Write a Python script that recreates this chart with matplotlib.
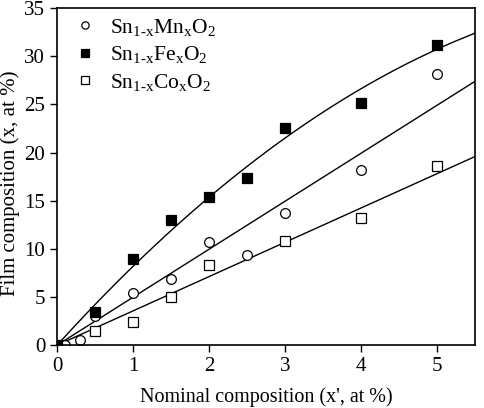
import numpy as np
import matplotlib
matplotlib.use("Agg")
import matplotlib.pyplot as plt

plt.rcParams['font.family'] = ['Liberation Serif', 'DejaVu Serif']
plt.rcParams['mathtext.fontset'] = 'custom'
plt.rcParams['mathtext.rm'] = 'Liberation Serif'
plt.rcParams['mathtext.it'] = 'Liberation Serif:italic'

# data
mn_x = [0.1, 0.3, 0.5, 1.0, 1.5, 2.0, 2.5, 3.0, 4.0, 5.0]
mn_y = [0.0, 0.5, 3.0, 5.4, 6.9, 10.7, 9.4, 13.7, 18.2, 28.2]
fe_x = [0.0, 0.5, 1.0, 1.5, 2.0, 2.5, 3.0, 4.0, 5.0]
fe_y = [0.0, 3.4, 9.0, 13.0, 15.4, 17.4, 22.6, 25.1, 31.2]
co_x = [0.5, 1.0, 1.5, 2.0, 3.0, 4.0, 5.0]
co_y = [1.45, 2.4, 5.0, 8.3, 10.8, 13.2, 18.6]

# fitted curves (coefficients for a*x + b*x^2)
mn_fit = (4.98, 0.0)
fe_fit = (8.70, -0.511)
co_fit = (3.56, 0.0)

labels = [r'Sn$_{\rm 1\text{-}x}$Mn$_{\rm x}$O$_{\rm 2}$',
          r'Sn$_{\rm 1\text{-}x}$Fe$_{\rm x}$O$_{\rm 2}$',
          r'Sn$_{\rm 1\text{-}x}$Co$_{\rm x}$O$_{\rm 2}$']

fig = plt.figure(figsize=(4.84, 4.08), dpi=100)
ax = fig.add_axes([0.118, 0.154, 0.863, 0.826])

xf = np.linspace(0, 5.5, 200)
for a, b in (mn_fit, fe_fit, co_fit):
    ax.plot(xf, a * xf + b * xf**2, color='black', lw=1.0)

ax.plot(mn_x, mn_y, 'o', mfc='white', mec='black', ms=7, mew=0.9, label=labels[0], ls='none')
ax.plot(fe_x, fe_y, 's', mfc='black', mec='black', ms=7, mew=0.9, label=labels[1], ls='none')
ax.plot(co_x, co_y, 's', mfc='white', mec='black', ms=7, mew=0.9, label=labels[2], ls='none')

ax.set_xlim(0, 5.5)
ax.set_ylim(0, 35)
ax.set_xticks([0, 1, 2, 3, 4, 5])
ax.set_yticks(range(0, 36, 5))
ax.tick_params(direction='out', length=5, width=1, labelsize=15, top=False, right=False)
for s in ax.spines.values():
    s.set_linewidth(1.2)

ax.set_xlabel("Nominal composition (x', at %)", fontsize=14.5, labelpad=8)
ax.set_ylabel("Film composition (x, at %)", fontsize=15, labelpad=4)
ax.yaxis.set_label_coords(-0.088, 0.48)

ax.legend(loc='upper left', frameon=False, fontsize=15.5, markerscale=0.75,
          handletextpad=0.55, labelspacing=0.3, borderaxespad=0.0,
          handlelength=1.2, bbox_to_anchor=(0.015, 1.0))

fig.savefig('out.png', dpi=100)
